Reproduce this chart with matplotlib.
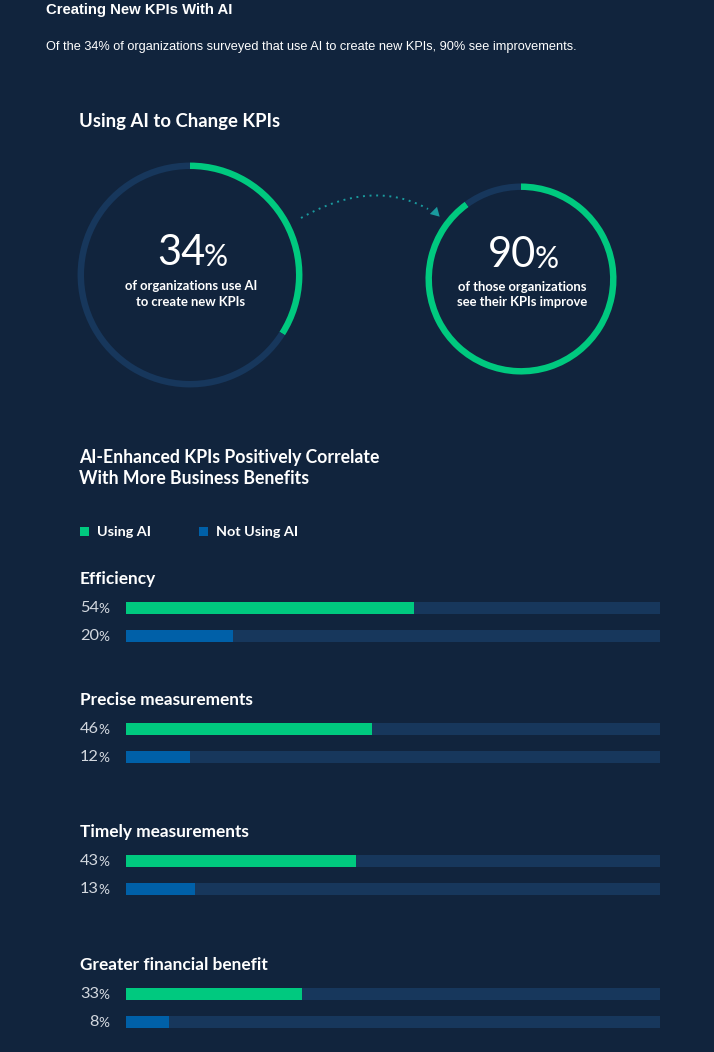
import matplotlib
matplotlib.use("Agg")
import matplotlib.pyplot as plt
import numpy as np

# ---------------- data ----------------
donut_values = [34, 90]
donut_lines = [["of organizations use AI", "to create new KPIs"],
               ["of those organizations", "see their KPIs improve"]]
categories = ["Efficiency", "Precise measurements", "Timely measurements", "Greater financial benefit"]
using_ai = [54, 46, 43, 33]
not_using_ai = [20, 12, 13, 8]
series_names = ["Using AI", "Not Using AI"]

# ---------------- style ----------------
BG = "#11243D"
TRACK = "#17375C"
GREEN = "#00C97F"
BLUE = "#0060A8"
TEAL = "#1A9A9E"
WHITE = "#FFFFFF"
GREY = "#D3D8DF"
BODY = ["Lato", "DejaVu Sans"]
NARROW = ["Liberation Sans Narrow", "Liberation Sans", "DejaVu Sans"]

W, H = 714, 1052
fig = plt.figure(figsize=(W / 100, H / 100), dpi=100, facecolor=BG)
ax = fig.add_axes([0, 0, 1, 1])
ax.set_xlim(0, W)
ax.set_ylim(H, 0)
ax.axis("off")
ax.set_facecolor(BG)

# ---------------- header ----------------
ax.text(46, 10, "Creating New KPIs With AI", family=NARROW, weight="bold",
        fontsize=10.7, color=WHITE, va="center", ha="left")
ax.text(46, 47, "Of the 34% of organizations surveyed that use AI to create new KPIs, 90% see improvements.",
        family=NARROW, fontsize=9.2, color=WHITE, va="center", ha="left")
ax.text(79, 122, "Using AI to Change KPIs", family=BODY, weight="bold",
        fontsize=13.3, color=WHITE, va="center", ha="left")

# ---------------- donuts ----------------
donut_geo = [(190, 275, 113), (521, 279, 96)]
text_y = [(253, 286, 302), (255, 287, 302)]
for (cx, cy, r), (ty0, ty1, ty2), val, lines in zip(donut_geo, text_y, donut_values, donut_lines):
    dax = fig.add_axes([(cx - r) / W, 1 - (cy + r) / H, 2 * r / W, 2 * r / H])
    dax.pie([val, 100 - val], colors=[GREEN, TRACK], startangle=90, counterclock=False,
            radius=1, wedgeprops=dict(width=6.5 / r, edgecolor="none"))
    dax.set_xlim(-1.005, 1.005)
    dax.set_ylim(-1.005, 1.005)
    dax.set_aspect("auto")
    dax.axis("off")
    # big number with smaller %
    ax.text(cx + 15, ty0, str(val), family=BODY, weight="normal",
            fontsize=30, color=WHITE, ha="right", va="center")
    ax.text(cx + 14, ty0 + 3.5, "%", family=BODY, weight="normal",
            fontsize=21.5, color=WHITE, ha="left", va="center")
    ax.text(cx + 1, ty1, lines[0], family=BODY, weight="bold", fontsize=9.4,
            color=WHITE, ha="center", va="center")
    ax.text(cx + 1, ty2, lines[1], family=BODY, weight="bold", fontsize=9.4,
            color=WHITE, ha="center", va="center")

# dotted arrow between donuts
t = np.linspace(0, 1, 60)
p0, p1, p2 = np.array([301, 218]), np.array([372, 178]), np.array([428, 209])
curve = ((1 - t) ** 2)[:, None] * p0 + (2 * (1 - t) * t)[:, None] * p1 + (t ** 2)[:, None] * p2
ax.plot(curve[:, 0], curve[:, 1], color=TEAL, lw=1.4, ls=(0, (1, 2.4)))
ax.plot([434.5], [212], marker=(3, 0, -15), markersize=8.5, color=TEAL, mec="none")

# ---------------- bar section ----------------
ax.text(79, 458, "AI-Enhanced KPIs Positively Correlate", family=BODY, weight="bold",
        fontsize=12.7, color=WHITE, va="center", ha="left")
ax.text(79, 478, "With More Business Benefits", family=BODY, weight="bold",
        fontsize=12.7, color=WHITE, va="center", ha="left")

# legend
for x0, name, col in [(80, series_names[0], GREEN), (199, series_names[1], BLUE)]:
    ax.add_patch(plt.Rectangle((x0, 527), 9, 9, color=col, lw=0))
    ax.text(x0 + 17, 532, name, family=BODY, weight="bold", fontsize=10.4,
            color=WHITE, va="center", ha="left")

bax = fig.add_axes([126 / W, 0, 534 / W, 1])
bax.set_xlim(0, 100)
bax.set_ylim(H, 0)
bax.axis("off")
bax.patch.set_alpha(0)

title_y = [579, 700, 832, 965]
bar_h = 11.5
for cat, a, b, ty in zip(categories, using_ai, not_using_ai, title_y):
    ax.text(80, ty, cat, family=BODY, weight="bold", fontsize=12.4,
            color=WHITE, va="center", ha="left")
    y1, y2 = ty + 29, ty + 57
    bax.barh([y1, y2], [100, 100], height=bar_h, color=TRACK, lw=0)
    bax.barh([y1], [a], height=bar_h, color=GREEN, lw=0)
    bax.barh([y2], [b], height=bar_h, color=BLUE, lw=0)
    for yy, v in [(y1, a), (y2, b)]:
        ax.text(99, yy, str(v), family=BODY, fontsize=11.8, color=GREY,
                va="center", ha="right")
        ax.text(98.5, yy + 1.3, "%", family=BODY, fontsize=9.8, color=GREY,
                va="center", ha="left")

fig.savefig("out.png", dpi=100, facecolor=BG)
